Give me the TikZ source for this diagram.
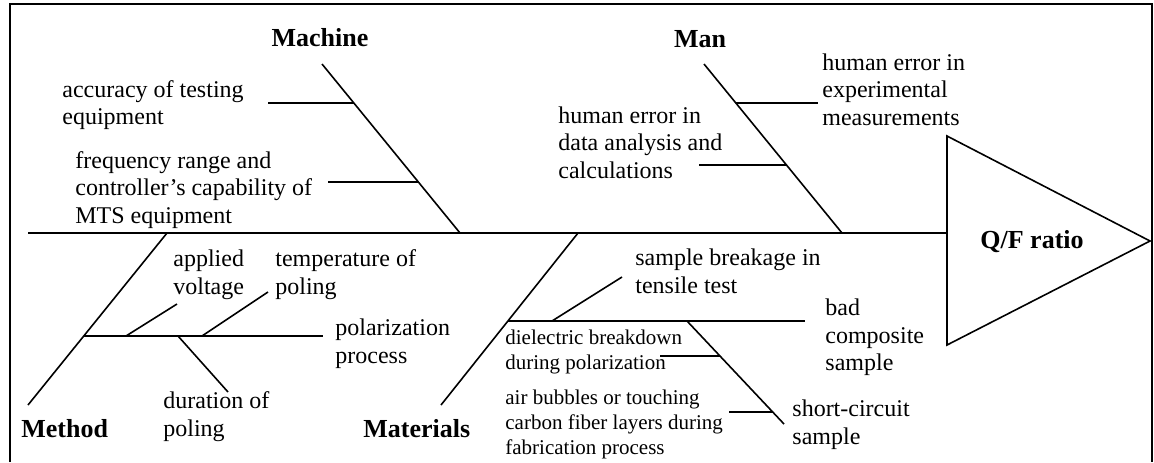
\documentclass[tikz,border=0pt]{standalone}
\usepackage{fontspec}
\setmainfont{Liberation Serif}
\begin{document}
\begin{tikzpicture}[x=0.5pt,y=-0.5pt,
  bone/.style={line width=0.8pt},
  frame/.style={line width=1.2pt},
  cause/.style={inner sep=0pt,anchor=west,align=left,
    font=\fontsize{12}{13.8}\selectfont},
  smallcause/.style={inner sep=0pt,anchor=west,align=left,
    font=\fontsize{10.5}{12.4}\selectfont},
  category/.style={inner sep=0pt,font=\fontsize{13}{15}\selectfont\bfseries}]
\useasboundingbox (0,0) rectangle (1154,462);

% open frame: left, top and right sides
\draw[frame] (10,462) -- (10,4) -- (1152,4) -- (1152,462);

% effect head
\coordinate (h1) at (947,136);
\coordinate (h2) at (947,345);
\coordinate (h3) at (1150,241);
\coordinate (hin) at (947,233);
\draw[bone,line join=miter] (h1) -- (h3) -- (h2) -- cycle;
\node[category] (effect) at (1032,242) {Q/F ratio};

% spine
\coordinate (tail) at (28,233);
\draw[bone] (tail) -- (hin);

% Machine
\node[category] (machine) at (320,38) {Machine};
\coordinate (ma) at (322,64);
\coordinate (mb) at (460,233);
\draw[bone] (ma) -- (mb);
\coordinate (m1a) at (268,103); \coordinate (m1b) at (354,103);
\coordinate (m2a) at (328,182); \coordinate (m2b) at (418,182);
\draw[bone] (m1a) -- (m1b);
\draw[bone] (m2a) -- (m2b);
\node[cause] (acc) at (62,105) {accuracy of testing\\equipment};
\node[cause] (freq) at (75,190) {frequency range and\\controller’s capability of\\MTS equipment};

% Man
\node[category] (man) at (700,39) {Man};
\coordinate (na) at (704,64);
\coordinate (nb) at (842,233);
\draw[bone] (na) -- (nb);
\coordinate (n1a) at (736,103); \coordinate (n1b) at (818,103);
\coordinate (n2a) at (699,165); \coordinate (n2b) at (786,165);
\draw[bone] (n1a) -- (n1b);
\draw[bone] (n2a) -- (n2b);
\node[cause] (hexp) at (822,89.5) {human error in\\experimental\\measurements};
\node[cause] (hdata) at (558,142.5) {human error in\\data analysis and\\calculations};

% Method
\node[category,anchor=west] (method) at (21,429) {Method};
\coordinate (ta) at (28,405);
\coordinate (tb) at (167,233);
\draw[bone] (ta) -- (tb);
\coordinate (pa) at (84,336); \coordinate (pb) at (323,336);
\draw[bone] (pa) -- (pb);
\coordinate (v0) at (126,336); \coordinate (v1) at (177,304);
\coordinate (t0) at (202,336); \coordinate (t1) at (268,292);
\coordinate (d0) at (178,336); \coordinate (d1) at (228,392);
\draw[bone] (v0) -- (v1);
\draw[bone] (t0) -- (t1);
\draw[bone] (d0) -- (d1);
\node[cause] (volt) at (173,274.5) {applied\\voltage};
\node[cause] (temp) at (275,274.5) {temperature of\\poling};
\node[cause] (polar) at (335,343.5) {polarization\\process};
\node[cause] (dur) at (163,416.5) {duration of\\poling};

% Materials
\node[category,anchor=west] (materials) at (363,429) {Materials};
\coordinate (ra) at (441,405);
\coordinate (rb) at (578,233);
\draw[bone] (ra) -- (rb);
\coordinate (ca) at (508,321); \coordinate (cb) at (805,321);
\draw[bone] (ca) -- (cb);
\coordinate (k0) at (552,321); \coordinate (k1) at (622,277);
\draw[bone] (k0) -- (k1);
\coordinate (s0) at (687,321); \coordinate (s1) at (784,424);
\draw[bone] (s0) -- (s1);
\coordinate (e0) at (660,356); \coordinate (e1) at (720,356);
\coordinate (b0) at (729,412); \coordinate (b1) at (773,412);
\draw[bone] (e0) -- (e1);
\draw[bone] (b0) -- (b1);
\node[cause] (brk) at (635,271) {sample breakage in\\tensile test};
\node[cause] (badc) at (825,337.5) {bad\\composite\\sample};
\node[cause] (short) at (792,425) {short-circuit\\sample};
\node[smallcause] (diel) at (505,352) {dielectric breakdown\\during polarization};
\node[smallcause] (air) at (505,424.5) {air bubbles or touching\\carbon fiber layers during\\fabrication process};
\end{tikzpicture}
\end{document}
